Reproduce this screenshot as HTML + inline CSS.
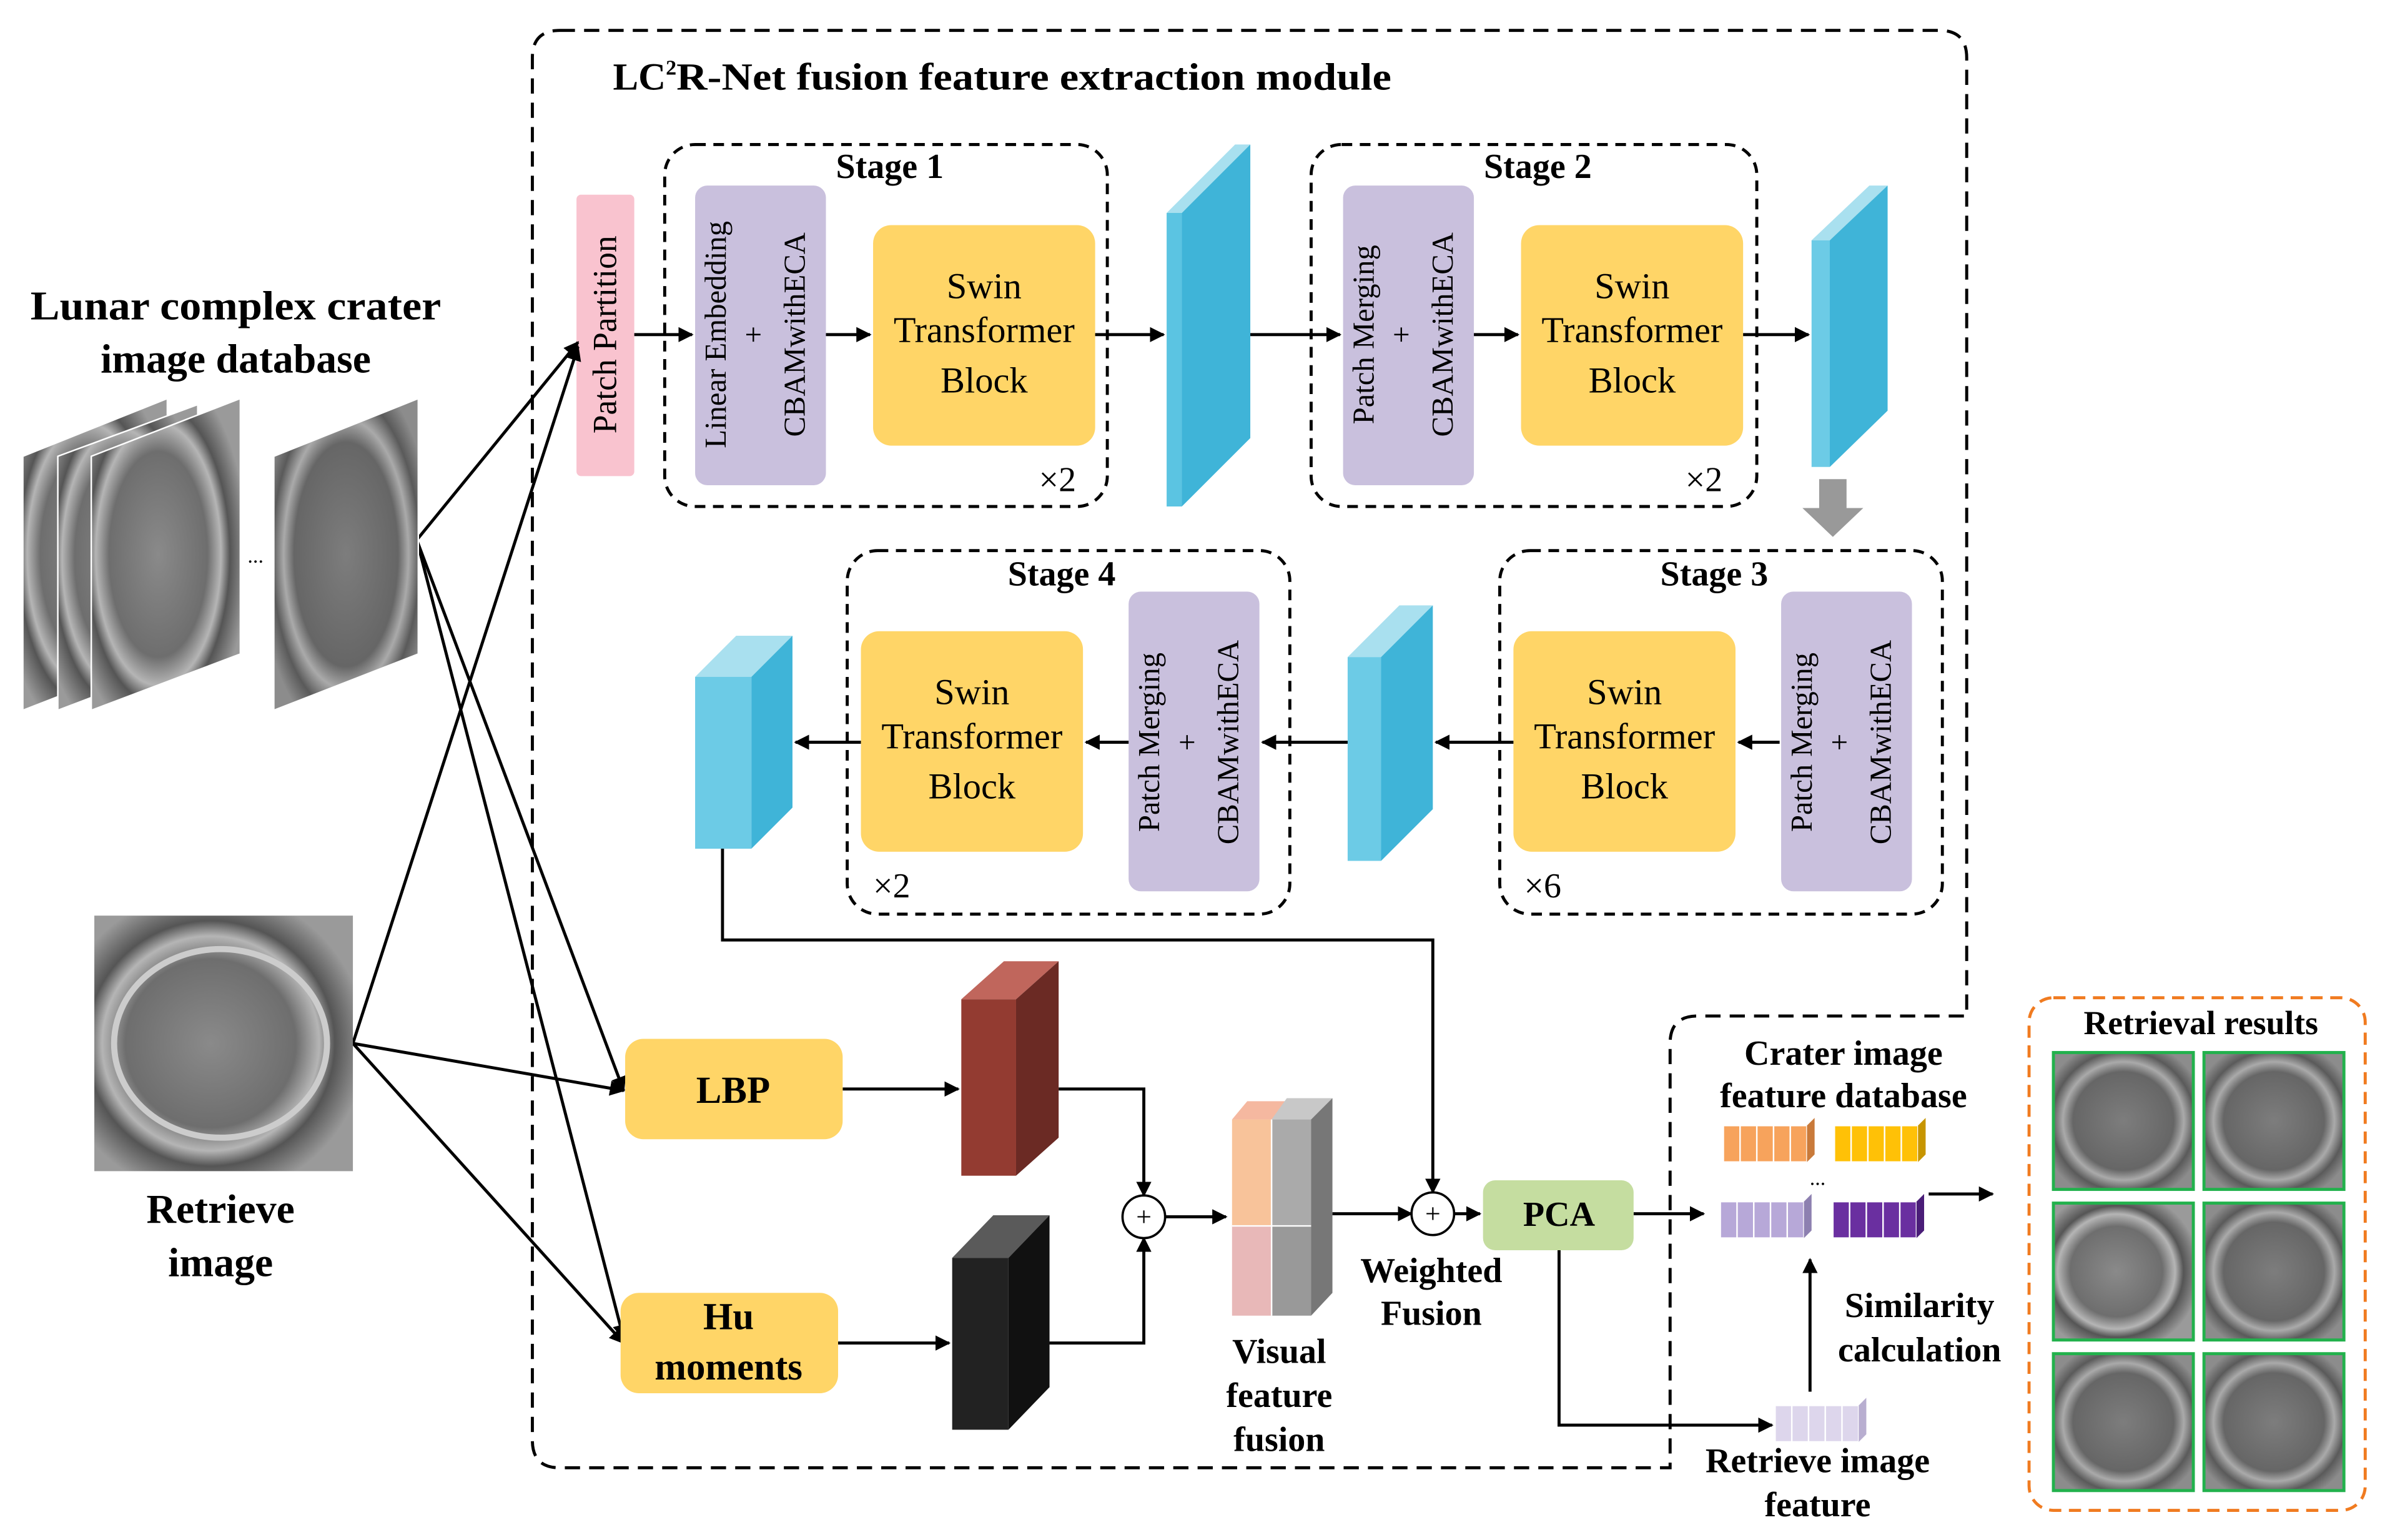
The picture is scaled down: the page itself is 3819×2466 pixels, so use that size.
<!DOCTYPE html>
<html><head><meta charset="utf-8"><style>
html,body{margin:0;padding:0;background:#fff}
svg{display:block}
text{font-family:"Liberation Serif",serif;fill:#000}
.b{font-weight:bold}
</style></head><body>
<svg width="3819" height="2466" viewBox="0 0 1568 1012.5" xmlns="http://www.w3.org/2000/svg">
<defs>
<marker id="a" markerWidth="10" markerHeight="10" refX="9" refY="5" orient="auto" markerUnits="userSpaceOnUse"><path d="M0,0 L10,5 L0,10 Z" fill="#000"/></marker>
<radialGradient id="cr" cx="0.45" cy="0.5" r="0.6"><stop offset="0" stop-color="#8a8a8a"/><stop offset="0.55" stop-color="#6e6e6e"/><stop offset="0.7" stop-color="#b5b5b5"/><stop offset="0.8" stop-color="#555"/><stop offset="1" stop-color="#9a9a9a"/></radialGradient>
<radialGradient id="cr2" cx="0.5" cy="0.5" r="0.6"><stop offset="0" stop-color="#7d7d7d"/><stop offset="0.6" stop-color="#666"/><stop offset="0.72" stop-color="#aaa"/><stop offset="0.85" stop-color="#5a5a5a"/><stop offset="1" stop-color="#8c8c8c"/></radialGradient>
</defs>

<path d="M368,20 H1275 Q1293,20 1293,38 V668 H1116 Q1098,668 1098,686 V965 H368 Q350,965 350,947 V38 Q350,20 368,20 Z" fill="none" stroke="#000" stroke-width="2" stroke-dasharray="10,6"/>
<text x="403" y="59" font-size="25" class="b">LC<tspan font-size="14" dy="-10">2</tspan><tspan dy="10" textLength="470" lengthAdjust="spacingAndGlyphs">R-Net fusion feature extraction module</tspan></text>

<g fill="none" stroke="#000" stroke-width="2" stroke-dasharray="7,5">
<rect x="437" y="95" width="291" height="238" rx="20"/>
<rect x="862" y="95" width="293" height="238" rx="20"/>
<rect x="986" y="362" width="291" height="239" rx="20"/>
<rect x="557" y="362" width="291" height="239" rx="20"/>
</g>
<g font-size="23" class="b" text-anchor="middle">
<text x="585" y="117">Stage 1</text><text x="1011" y="117">Stage 2</text>
<text x="1127" y="385">Stage 3</text><text x="698" y="385">Stage 4</text>
</g>

<rect x="379" y="128" width="38" height="185" rx="3" fill="#f9c3cf"/>
<text transform="translate(405,220) rotate(-90)" font-size="22" text-anchor="middle">Patch Partition</text>

<g fill="#c9c0dd">
<rect x="457" y="122" width="86" height="197" rx="8"/>
<rect x="883" y="122" width="86" height="197" rx="8"/>
<rect x="1171" y="389" width="86" height="197" rx="8"/>
<rect x="742" y="389" width="86" height="197" rx="8"/>
</g>
<g font-size="20" text-anchor="middle">
<text transform="translate(477,220) rotate(-90)">Linear Embedding</text>
<text transform="translate(502,220) rotate(-90)">+</text>
<text transform="translate(529,220) rotate(-90)">CBAMwithECA</text>
<text transform="translate(903,220) rotate(-90)">Patch Merging</text>
<text transform="translate(928,220) rotate(-90)">+</text>
<text transform="translate(955,220) rotate(-90)">CBAMwithECA</text>
<text transform="translate(1191,488) rotate(-90)">Patch Merging</text>
<text transform="translate(1216,488) rotate(-90)">+</text>
<text transform="translate(1243,488) rotate(-90)">CBAMwithECA</text>
<text transform="translate(762,488) rotate(-90)">Patch Merging</text>
<text transform="translate(787,488) rotate(-90)">+</text>
<text transform="translate(814,488) rotate(-90)">CBAMwithECA</text>
</g>

<g fill="#ffd567">
<rect x="574" y="148" width="146" height="145" rx="12"/>
<rect x="1000" y="148" width="146" height="145" rx="12"/>
<rect x="995" y="415" width="146" height="145" rx="12"/>
<rect x="566" y="415" width="146" height="145" rx="12"/>
</g>
<g font-size="24" text-anchor="middle">
<text x="647" y="196">Swin</text><text x="647" y="225">Transformer</text><text x="647" y="258">Block</text>
<text x="1073" y="196">Swin</text><text x="1073" y="225">Transformer</text><text x="1073" y="258">Block</text>
<text x="1068" y="463">Swin</text><text x="1068" y="492">Transformer</text><text x="1068" y="525">Block</text>
<text x="639" y="463">Swin</text><text x="639" y="492">Transformer</text><text x="639" y="525">Block</text>
</g>
<g font-size="23">
<text x="683" y="323">×2</text><text x="1108" y="323">×2</text>
<text x="1002" y="590">×6</text><text x="574" y="590">×2</text>
</g>

<g>
<polygon points="767,140 777,140 822,95 812,95" fill="#a9e0ef"/>
<rect x="767" y="140" width="10" height="193" fill="#5bc4e2"/>
<polygon points="777,140 822,95 822,288 777,333" fill="#3fb4d8"/>
<polygon points="1191,158 1203,158 1241,122 1229,122" fill="#a9e0ef"/>
<rect x="1191" y="158" width="12" height="149" fill="#6ccbe6"/>
<polygon points="1203,158 1241,122 1241,270 1203,307" fill="#3fb4d8"/>
<polygon points="886,432 908,432 942,398 920,398" fill="#a9e0ef"/>
<rect x="886" y="432" width="22" height="134" fill="#6ccbe6"/>
<polygon points="908,432 942,398 942,532 908,566" fill="#3fb4d8"/>
<polygon points="457,445 494,445 521,418 484,418" fill="#a9e0ef"/>
<rect x="457" y="445" width="37" height="113" fill="#6ccbe6"/>
<polygon points="494,445 521,418 521,531 494,558" fill="#3fb4d8"/>
</g>
<polygon points="1196,315 1214,315 1214,334 1225,334 1205,353 1185,334 1196,334" fill="#999"/>

<g stroke="#000" stroke-width="2" fill="none" marker-end="url(#a)">
<line x1="417" y1="220" x2="455" y2="220"/>
<line x1="543" y1="220" x2="572" y2="220"/>
<line x1="720" y1="220" x2="765" y2="220"/>
<line x1="822" y1="220" x2="881" y2="220"/>
<line x1="969" y1="220" x2="998" y2="220"/>
<line x1="1146" y1="220" x2="1189" y2="220"/>
<line x1="1170" y1="488" x2="1143" y2="488"/>
<line x1="995" y1="488" x2="944" y2="488"/>
<line x1="886" y1="488" x2="830" y2="488"/>
<line x1="742" y1="488" x2="714" y2="488"/>
<line x1="566" y1="488" x2="523" y2="488"/>
<polyline points="475,558 475,618 942,618 942,784"/>
<line x1="554" y1="716" x2="630" y2="716"/>
<line x1="551" y1="883" x2="624" y2="883"/>
<polyline points="696,716 752,716 752,786"/>
<polyline points="690,883 752,883 752,814"/>
<line x1="766" y1="800" x2="806" y2="800"/>
<line x1="876" y1="798" x2="928" y2="798"/>
<line x1="956" y1="798" x2="973" y2="798"/>
<line x1="1074" y1="798" x2="1120" y2="798"/>
<polyline points="1025,822 1025,937 1165,937"/>
<line x1="1190" y1="915" x2="1190" y2="828"/>
<line x1="1268" y1="785" x2="1310" y2="785"/>
<line x1="274" y1="355" x2="380" y2="225"/>
<line x1="274" y1="355" x2="410" y2="717"/>
<line x1="274" y1="355" x2="410" y2="880"/>
<line x1="232" y1="686" x2="380" y2="228"/>
<line x1="232" y1="686" x2="410" y2="717"/>
<line x1="232" y1="686" x2="410" y2="883"/>
</g>
<g fill="#fff" stroke="#000" stroke-width="1.5">
<circle cx="752" cy="800" r="14"/><circle cx="942" cy="798" r="14"/>
</g>
<g font-size="18" text-anchor="middle"><text x="752" y="806">+</text><text x="942" y="804">+</text></g>

<rect x="411" y="683" width="143" height="66" rx="12" fill="#ffd567"/>
<rect x="408" y="850" width="143" height="66" rx="12" fill="#ffd567"/>
<g font-size="25" class="b" text-anchor="middle">
<text x="482" y="725">LBP</text>
<text x="479" y="874">Hu</text><text x="479" y="907">moments</text>
</g>

<polygon points="632,657 668,657 696,632 660,632" fill="#c0665c"/>
<rect x="632" y="657" width="36" height="116" fill="#933b31"/>
<polygon points="668,657 696,632 696,748 668,773" fill="#6b2a24"/>
<polygon points="626,827 663,827 690,799 653,799" fill="#5a5a5a"/>
<rect x="626" y="827" width="37" height="113" fill="#222"/>
<polygon points="663,827 690,799 690,912 663,940" fill="#111"/>

<g>
<polygon points="810,736 836,736 846,724 820,724" fill="#f5b8a0"/>
<rect x="810" y="736" width="26" height="70" fill="#f8c39a"/>
<rect x="810" y="806" width="26" height="59" fill="#e8b8b8"/>
<polygon points="836,736 876,736 876,722 846,722" fill="#c8c8c8"/>
<rect x="836" y="736" width="26" height="70" fill="#aaa"/>
<rect x="836" y="806" width="26" height="59" fill="#999"/>
<polygon points="862,736 876,722 876,850 862,865" fill="#777"/>
<line x1="836" y1="736" x2="836" y2="865" stroke="#fff"/>
<line x1="810" y1="806" x2="862" y2="806" stroke="#fff"/>
</g>

<rect x="975" y="776" width="99" height="46" rx="8" fill="#c5dda0"/>
<text x="1025" y="806" font-size="23" class="b" text-anchor="middle">PCA</text>

<g stroke="#fff" stroke-width="1">
<rect x="1133" y="740" width="55" height="24" fill="#f7a35c"/>
<rect x="1206" y="740" width="55" height="24" fill="#ffc107"/>
<rect x="1131" y="790" width="55" height="24" fill="#b7a8d8"/>
<rect x="1205" y="790" width="55" height="24" fill="#6a2fa0"/>
<rect x="1167" y="924" width="55" height="24" fill="#ddd6ec"/>
</g>
<g fill="none" stroke="#fff" stroke-width="1">
<path d="M1144,740v24M1155,740v24M1166,740v24M1177,740v24M1217,740v24M1228,740v24M1239,740v24M1250,740v24M1142,790v24M1153,790v24M1164,790v24M1175,790v24M1216,790v24M1227,790v24M1238,790v24M1249,790v24M1178,924v24M1189,924v24M1200,924v24M1211,924v24"/>
</g>
<polygon points="1188,740 1193,735 1193,759 1188,764" fill="#c97a3a"/>
<polygon points="1261,740 1266,735 1266,759 1261,764" fill="#c79500"/>
<polygon points="1186,790 1191,785 1191,809 1186,814" fill="#8d80b0"/>
<polygon points="1260,790 1265,785 1265,809 1260,814" fill="#4a1d78"/>
<polygon points="1222,924 1227,919 1227,943 1222,948" fill="#b8aed0"/>
<text x="1195" y="779" font-size="14" text-anchor="middle">...</text>

<g font-size="23" class="b" text-anchor="middle">
<text x="1212" y="700">Crater image</text><text x="1212" y="728">feature database</text>
<text x="1262" y="866">Similarity</text><text x="1262" y="895">calculation</text>
<text x="1195" y="968">Retrieve image</text><text x="1195" y="997">feature</text>
<text x="941" y="843">Weighted</text><text x="941" y="871">Fusion</text>
<text x="841" y="896">Visual</text><text x="841" y="925">feature</text><text x="841" y="954">fusion</text>
</g>
<g font-size="27" class="b" text-anchor="middle">
<text x="155" y="210" textLength="270" lengthAdjust="spacingAndGlyphs">Lunar complex crater</text><text x="155" y="245">image database</text>
<text x="145" y="804">Retrieve</text><text x="145" y="839">image</text>
</g>

<g stroke="#fff" stroke-width="1">
<polygon points="15,300 110,262 110,430 15,467" fill="url(#cr)"/>
<polygon points="38,300 130,266 130,432 38,467" fill="url(#cr)"/>
<polygon points="60,300 158,262 158,430 60,467" fill="url(#cr)"/>
<polygon points="180,300 275,262 275,430 180,467" fill="url(#cr2)"/>
</g>
<text x="168" y="370" font-size="14" text-anchor="middle">...</text>
<rect x="62" y="602" width="170" height="168" fill="url(#cr)"/>
<ellipse cx="145" cy="686" rx="70" ry="62" fill="none" stroke="#ccc" stroke-width="4"/>

<rect x="1334" y="656" width="221" height="337" rx="16" fill="none" stroke="#f07b20" stroke-width="2" stroke-dasharray="8,5"/>
<text x="1447" y="680" font-size="22" class="b" text-anchor="middle">Retrieval results</text>
<g stroke="#22b14c" stroke-width="2">
<rect x="1350" y="692" width="92" height="90" fill="url(#cr2)"/>
<rect x="1449" y="692" width="92" height="90" fill="url(#cr2)"/>
<rect x="1350" y="791" width="92" height="90" fill="url(#cr)"/>
<rect x="1449" y="791" width="92" height="90" fill="url(#cr2)"/>
<rect x="1350" y="890" width="92" height="90" fill="url(#cr2)"/>
<rect x="1449" y="890" width="92" height="90" fill="url(#cr2)"/>
</g>
</svg>
</body></html>
